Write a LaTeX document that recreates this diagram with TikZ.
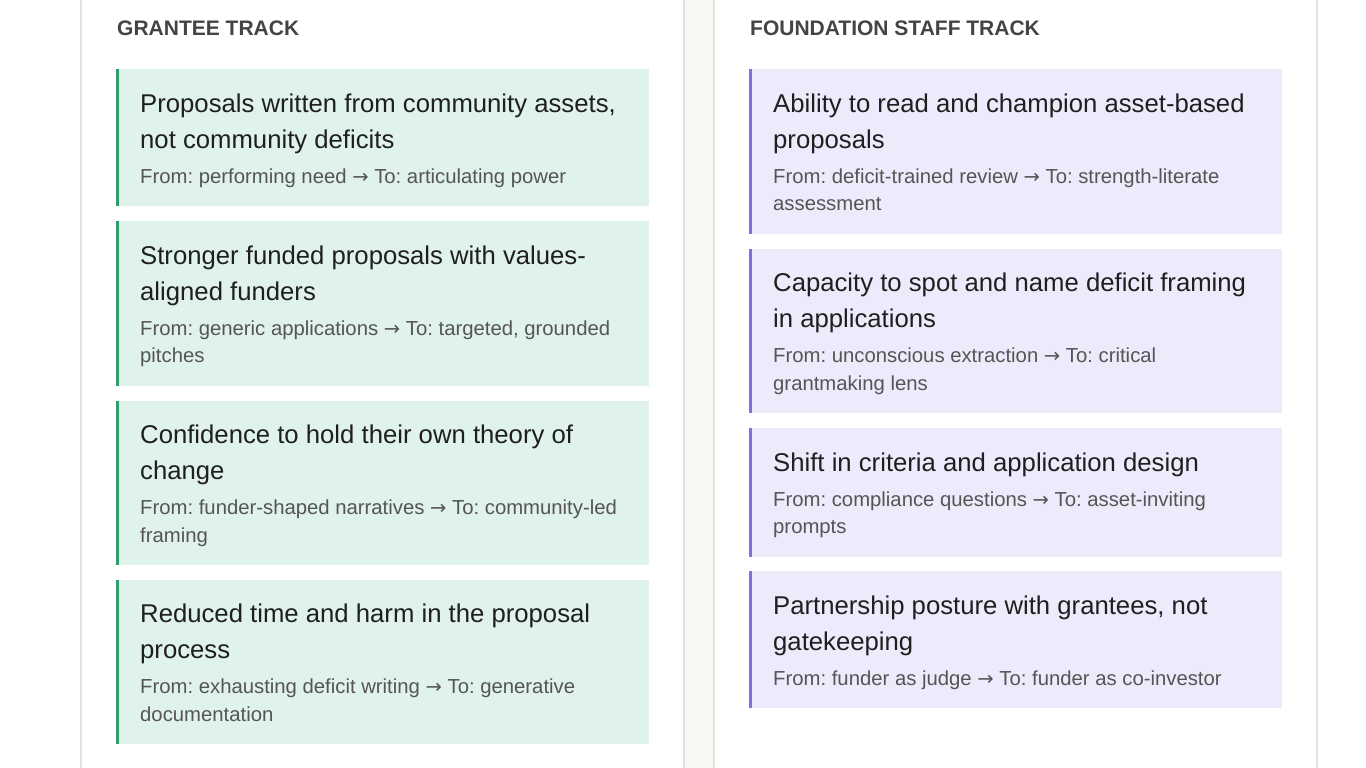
\documentclass[tikz,border=0pt]{standalone}
\usepackage{fontspec}
\setmainfont{Liberation Sans}
\newfontfamily\arrowfont{DejaVu Sans}
\usepackage{xcolor}
\usepackage{tikz}
\usetikzlibrary{positioning}
\setlength{\parindent}{0pt}
\frenchspacing
\definecolor{mint}{RGB}{224,242,236}
\definecolor{mintbar}{RGB}{46,158,106}
\definecolor{lilac}{RGB}{236,235,252}
\definecolor{lilacbar}{RGB}{124,111,224}
\definecolor{paper}{RGB}{248,247,244}
\definecolor{edge}{RGB}{226,226,222}
\definecolor{ink}{RGB}{31,31,31}
\definecolor{subink}{RGB}{85,85,85}
\definecolor{headink}{RGB}{68,68,68}
% title / from-to parts of a card
\newcommand{\ttl}{\fontsize{25.7}{36}\selectfont\spaceskip=0pt\xspaceskip=0pt\color{ink}\rule{0pt}{43pt}}
\newcommand{\fromto}{\par\vspace{7.5pt}\fontsize{20.3}{27.5}\selectfont\spaceskip=0pt\xspaceskip=0pt\leavevmode\color{subink}}
\newcommand{\arr}{{\arrowfont\fontsize{19.5}{27.5}\selectfont →}}
\newcommand{\cardend}{\rule[-23pt]{0pt}{0pt}\par}
\tikzstyle{head}=[%
      anchor=west, inner sep=0pt, text=headink, font=\fontsize{21}{24}\selectfont\bfseries
]
\tikzstyle{gcard}=[%
      rectangle, fill=mint, draw=none, anchor=north west,
      text width=485pt, inner xsep=24pt, inner ysep=0pt, align=left,
      path picture={\fill[mintbar] (path picture bounding box.north west) rectangle ([xshift=3pt]path picture bounding box.south west);}
]
\tikzstyle{fcard}=[%
      gcard, fill=lilac,
      path picture={\fill[lilacbar] (path picture bounding box.north west) rectangle ([xshift=3pt]path picture bounding box.south west);}
]
\begin{document}
\begin{tikzpicture}[x=1pt, y=1pt, node distance=14.5pt]
    \useasboundingbox (0,0) rectangle (1366,-768);
    \fill[white] (0,0) rectangle (1366,-768);
    % panels
    \fill[paper] (684,0) rectangle (714,-768);
    \draw[edge, line width=1.5pt] (81,0) -- (81,-768);
    \draw[edge, line width=1.5pt] (684,0) -- (684,-768);
    \draw[edge, line width=1.5pt] (714,0) -- (714,-768);
    \draw[edge, line width=1.5pt] (1317,0) -- (1317,-768);

    \node[head] (ghead) at (117,-28) {GRANTEE TRACK};
    \node[head] (fhead) at (750,-28) {FOUNDATION STAFF TRACK};

    % grantee track
    \node[gcard] (g1) at (116,-69) {\ttl Proposals written from community assets,\\ not community deficits\fromto From: performing need \arr{} To: articulating power\cardend};
    \node[gcard, below=of g1] (g2) {\ttl Stronger funded proposals with values-\\aligned funders\fromto From: generic applications \arr{} To: targeted, grounded\\ pitches\cardend};
    \node[gcard, below=of g2] (g3) {\ttl Confidence to hold their own theory of\\ change\fromto From: funder-shaped narratives \arr{} To: community-led\\ framing\cardend};
    \node[gcard, below=of g3] (g4) {\ttl Reduced time and harm in the proposal\\ process\fromto From: exhausting deficit writing \arr{} To: generative\\ documentation\cardend};

    % foundation staff track
    \node[fcard] (f1) at (749,-69) {\ttl Ability to read and champion asset-based\\ proposals\fromto From: deficit-trained review \arr{} To: strength-literate\\ assessment\cardend};
    \node[fcard, below=of f1] (f2) {\ttl Capacity to spot and name deficit framing\\ in applications\fromto From: unconscious extraction \arr{} To: critical\\ grantmaking lens\cardend};
    \node[fcard, below=of f2] (f3) {\ttl Shift in criteria and application design\fromto From: compliance questions \arr{} To: asset-inviting\\ prompts\cardend};
    \node[fcard, below=of f3] (f4) {\ttl Partnership posture with grantees, not\\ gatekeeping\fromto From: funder as judge \arr{} To: funder as co-investor\cardend};
\end{tikzpicture}
\end{document}
